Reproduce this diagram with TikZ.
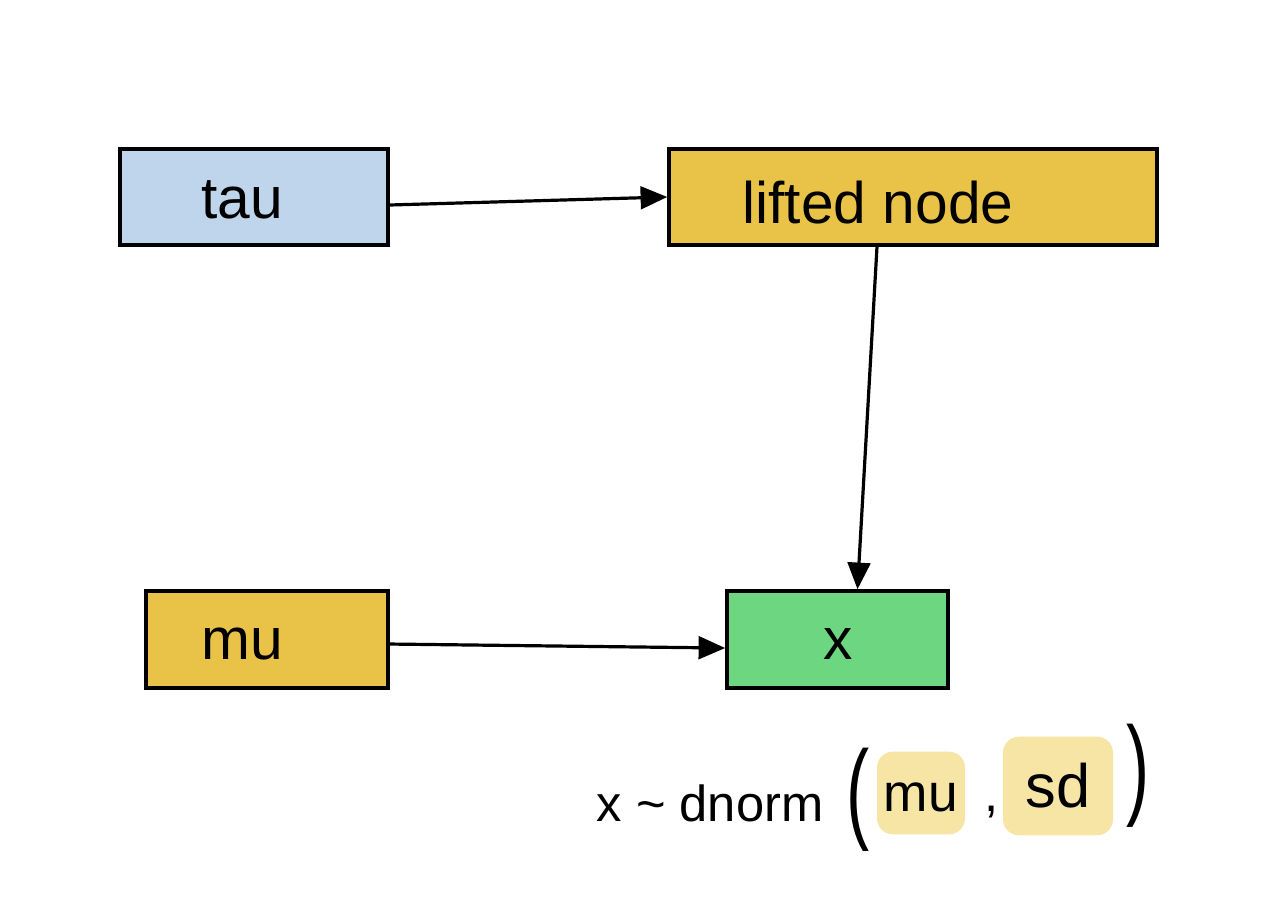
\documentclass[tikz,border=0pt]{standalone}
\usepackage{fontspec}
\usepackage{graphicx}
\setmainfont{Liberation Sans}
\usetikzlibrary{arrows.meta}
\definecolor{cblue}{HTML}{BFD5EB}
\definecolor{cyellow}{HTML}{E9C347}
\definecolor{cgreen}{HTML}{6CD680}
\definecolor{chl}{HTML}{F6E5A5}
\begin{document}
\begin{tikzpicture}[x=0.75pt,y=-0.75pt,
  box/.style={draw=black, line width=2.6pt, rectangle, inner sep=0pt},
  lbl/.style={inner sep=0pt, font=\fontsize{44}{48}\selectfont},
  ftxt/.style={inner sep=0pt, font=\fontsize{38}{42}\selectfont},
  paren/.style={inner sep=0pt, font=\fontsize{52}{60}\selectfont},
  hl/.style={fill=chl, rounded corners=12pt, inner sep=0pt, font=\fontsize{40}{44}\selectfont},
  conn/.style={line width=2.4pt, -{Triangle[length=20pt,width=17pt]}}]
\useasboundingbox[fill=white] (0,0) rectangle (1272,900);
% boxes
\node[box, fill=cblue, minimum width=201pt, minimum height=72pt] (tau) at (254,197) {};
\node[box, fill=cyellow, minimum width=366pt, minimum height=72pt] (lifted) at (913,197) {};
\node[box, fill=cyellow, minimum width=181.5pt, minimum height=72.75pt] (mu) at (267,639.5) {};
\node[box, fill=cgreen, minimum width=165.75pt, minimum height=72.75pt] (x) at (837.5,639.5) {};
% labels
\node[lbl] (taulbl) at (242,200) {tau};
\node[lbl] (liftedlbl) at (878,203) {lifted node};
\node[lbl] (mulbl) at (242,644) {mu};
\node[lbl] (xlbl) at (838,644) {x};
% connectors
\draw[conn] ([yshift=-6pt]tau.east) -- (lifted.west);
\draw[conn] ([xshift=-27pt]lifted.south) -- ([xshift=15pt]x.north);
\draw[conn] ([yshift=-3.4pt]mu.east) -- ([yshift=-6.4pt]x.west);
% formula
\node[ftxt] (f1) at (710,803) {x \textasciitilde{} dnorm};
\node[paren] (lp) at (858,800) {\scalebox{1}[1.6]{(}};
\node[hl, minimum width=66pt, minimum height=62pt, text depth=0pt] (hmu) at (921,793) {\raisebox{-6pt}{mu}};
\node[ftxt] (comma) at (992,812) {,};
\node[hl, minimum width=82.5pt, minimum height=74pt, font=\fontsize{46}{50}\selectfont] (hsd) at (1058,786) {sd};
\node[paren] (rp) at (1138,776) {\scalebox{1}[1.6]{)}};
\end{tikzpicture}
\end{document}
